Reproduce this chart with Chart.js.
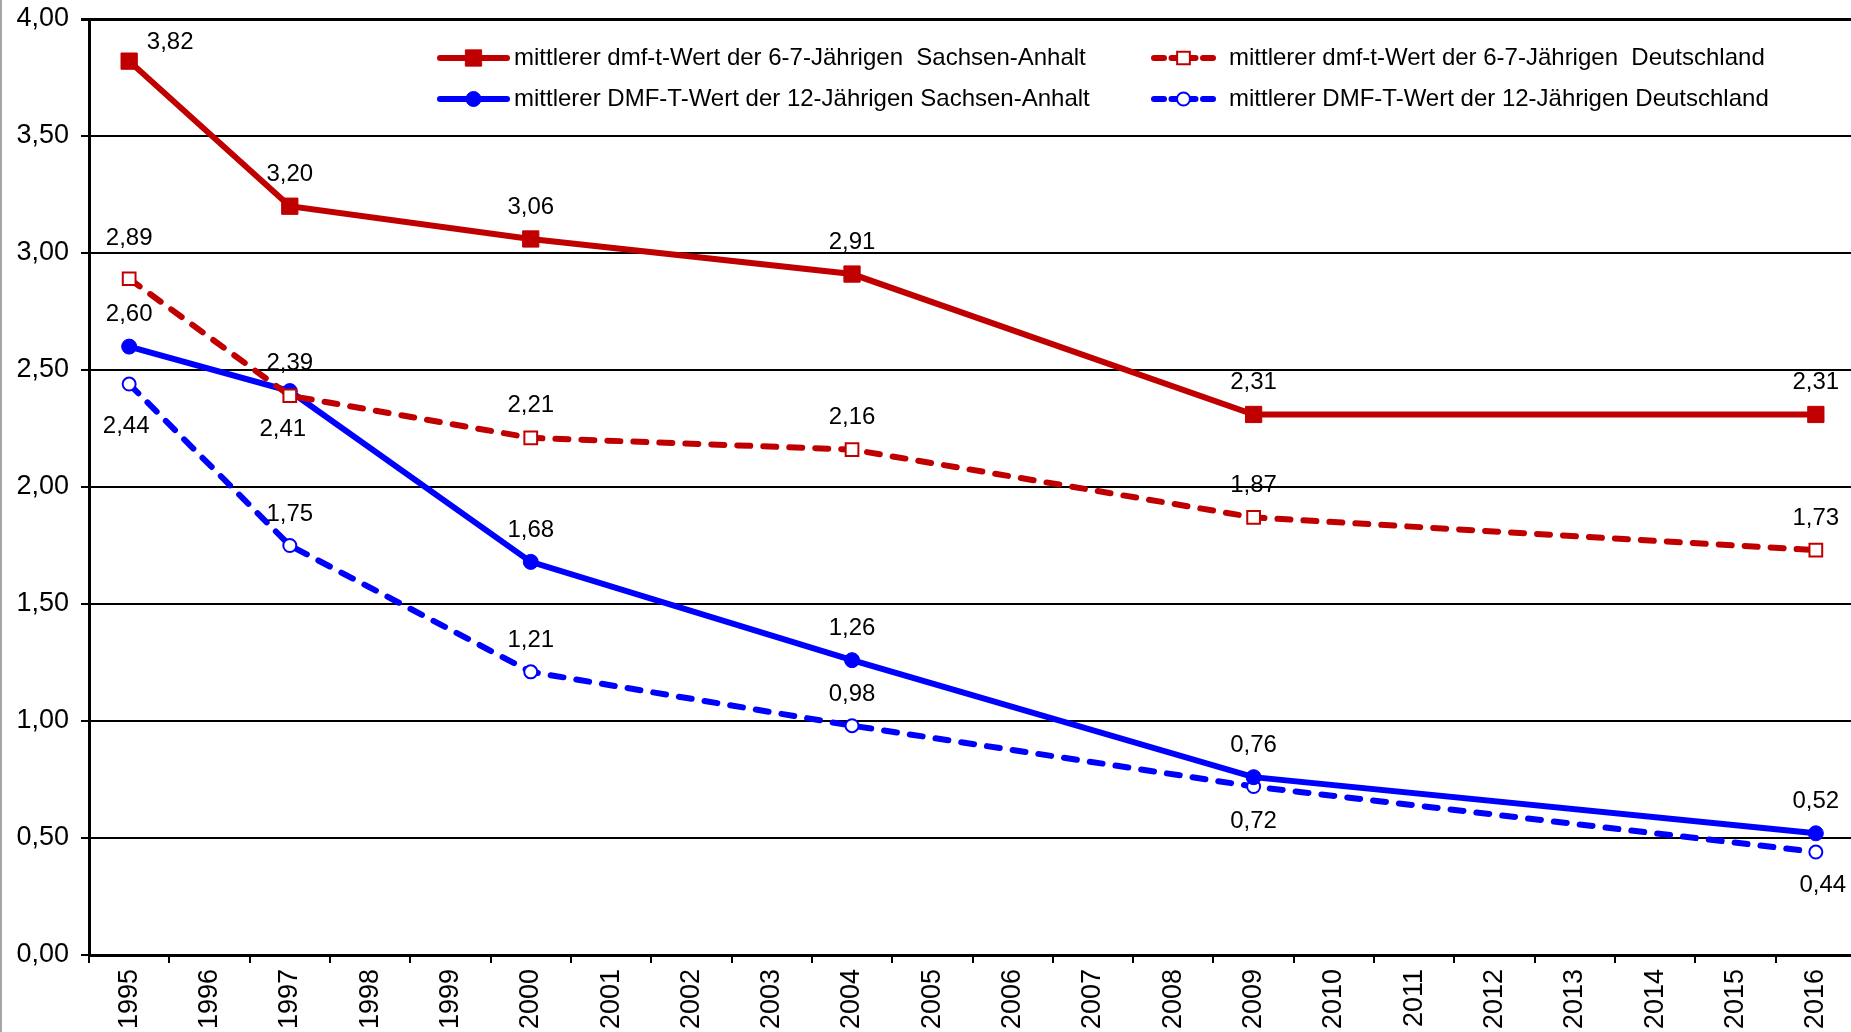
<!DOCTYPE html>
<html>
<head>
<meta charset="utf-8">
<script src="https://cdn.jsdelivr.net/npm/chart.js@4/dist/chart.umd.min.js"></script>
<style>
  html, body { margin: 0; padding: 0; background: #ffffff; overflow: hidden; }
  #wrap { position: relative; width: 1851px; height: 1032px; overflow: hidden; }
  #c { display: block; }
</style>
</head>
<body>
<div id="wrap"><canvas id="c" width="1856" height="1032"></canvas></div>
<script>
// ---- Data ----
const years = ["1995","1996","1997","1998","1999","2000","2001","2002","2003","2004","2005","2006","2007","2008","2009","2010","2011","2012","2013","2014","2015","2016"];
const saDmft67 = [3.82,null,3.20,null,null,3.06,null,null,null,2.91,null,null,null,null,2.31,null,null,null,null,null,null,2.31];
const deDmft67 = [2.89,null,2.39,null,null,2.21,null,null,null,2.16,null,null,null,null,1.87,null,null,null,null,null,null,1.73];
const saDMFT12 = [2.60,null,2.41,null,null,1.68,null,null,null,1.26,null,null,null,null,0.76,null,null,null,null,null,null,0.52];
const deDMFT12 = [2.44,null,1.75,null,null,1.21,null,null,null,0.98,null,null,null,null,0.72,null,null,null,null,null,null,0.44];
const seriesNames = [
  "mittlerer dmf-t-Wert der 6-7-Jährigen  Sachsen-Anhalt",
  "mittlerer dmf-t-Wert der 6-7-Jährigen  Deutschland",
  "mittlerer DMF-T-Wert der 12-Jährigen Sachsen-Anhalt",
  "mittlerer DMF-T-Wert der 12-Jährigen Deutschland"
];
const yTicks = [0,0.5,1,1.5,2,2.5,3,3.5,4];

// ---- Styles ----
const RED = "#C00000";
const BLUE = "#0000FF";
const FONT = "'Liberation Sans', Arial, sans-serif";

// label placement (style only): [dx, dy] per point index
const labelPlace = [
  {0:[41,-19], def:[0,-32]},
  {def:[0,-32], 0:[0,-40]},
  {def:[0,-32], 2:[-7,38]},
  {def:[0,-31], 0:[-3,42], 14:[0,35], 21:[7,33]}
];

function fmt(v){ return v.toFixed(2).replace('.', ','); }

const dataLabelPlugin = {
  id: 'dataLabels',
  afterDatasetsDraw(chart) {
    const ctx = chart.ctx;
    ctx.save();
    ctx.font = "24px " + FONT;
    ctx.fillStyle = "#000";
    ctx.textAlign = "center";
    ctx.textBaseline = "middle";
    chart.data.datasets.forEach((ds, i) => {
      const meta = chart.getDatasetMeta(i);
      ds.data.forEach((v, j) => {
        if (v === null) return;
        const el = meta.data[j];
        const off = labelPlace[i][j] || labelPlace[i].def;
        ctx.fillText(fmt(v), el.x + off[0], el.y + off[1]);
      });
    });
    ctx.restore();
  }
};

function drawMarker(ctx, ds, x, y) {
  ctx.save();
  ctx.lineWidth = ds.pointBorderWidth;
  ctx.strokeStyle = ds.pointBorderColor;
  ctx.fillStyle = ds.pointBackgroundColor;
  ctx.setLineDash([]);
  ctx.beginPath();
  if (ds.pointStyle === 'rect') {
    const s = Math.SQRT1_2 * ds.pointRadius;
    ctx.rect(x - s, y - s, 2*s, 2*s);
  } else {
    ctx.arc(x, y, ds.pointRadius, 0, Math.PI*2);
  }
  ctx.fill();
  ctx.stroke();
  ctx.restore();
}

const legendPlugin = {
  id: 'customLegend',
  afterDraw(chart) {
    const ctx = chart.ctx;
    const spots = [
      {x0:437, x1:510, y:58, gap:4},
      {x0:1151, x1:1216, y:58, gap:13},
      {x0:437, x1:510, y:99, gap:4},
      {x0:1151, x1:1216, y:99, gap:13}
    ];
    ctx.save();
    chart.data.datasets.forEach((ds, i) => {
      const s = spots[i];
      ctx.save();
      ctx.strokeStyle = ds.borderColor;
      ctx.lineWidth = ds.borderWidth;
      ctx.lineCap = 'round';
      if (ds.borderDash && ds.borderDash.length) {
        const mx = (s.x0 + s.x1) / 2;
        ctx.beginPath(); ctx.moveTo(s.x0 + 3, s.y); ctx.lineTo(s.x0 + 13, s.y); ctx.stroke();
        ctx.beginPath(); ctx.moveTo(mx - 12, s.y); ctx.lineTo(mx + 12, s.y); ctx.stroke();
        ctx.beginPath(); ctx.moveTo(s.x1 - 13, s.y); ctx.lineTo(s.x1 - 3, s.y); ctx.stroke();
      } else {
        ctx.beginPath(); ctx.moveTo(s.x0 + 3, s.y); ctx.lineTo(s.x1 - 3, s.y); ctx.stroke();
      }
      ctx.restore();
      drawMarker(ctx, ds, (s.x0 + s.x1) / 2, s.y);
      ctx.font = "24px " + FONT;
      ctx.fillStyle = "#000";
      ctx.textAlign = "left";
      ctx.textBaseline = "middle";
      ctx.fillText(ds.label, s.x1 + s.gap, s.y);
    });
    ctx.restore();
  }
};

const framePlugin = {
  id: 'frame',
  afterDraw(chart) {
    const ctx = chart.ctx;
    ctx.save();
    ctx.fillStyle = "#a6a6a6";
    ctx.fillRect(0, 0, 2, chart.height);
    ctx.restore();
  }
};

function mk(label, data, color, dashed, style) {
  return {
    label: label,
    data: data,
    borderColor: color,
    backgroundColor: color,
    borderWidth: 6,
    borderDash: dashed ? [13, 13] : [],
    borderCapStyle: dashed ? 'round' : 'butt',
    spanGaps: true,
    tension: 0,
    clip: false,
    pointStyle: style.shape,
    pointRadius: style.r,
    pointHoverRadius: style.r,
    pointBorderWidth: style.bw,
    pointBorderColor: color,
    pointBackgroundColor: style.filled ? color : "#ffffff"
  };
}

new Chart(document.getElementById('c'), {
  type: 'line',
  data: {
    labels: years,
    datasets: [
      mk(seriesNames[0], saDmft67, RED, false, {shape:'rect', r:11.5, bw:1, filled:true}),
      mk(seriesNames[1], deDmft67, RED, true, {shape:'rect', r:9, bw:2, filled:false}),
      mk(seriesNames[2], saDMFT12, BLUE, false, {shape:'circle', r:7.5, bw:1, filled:true}),
      mk(seriesNames[3], deDMFT12, BLUE, true, {shape:'circle', r:6.5, bw:2, filled:false})
    ]
  },
  options: {
    responsive: false,
    animation: false,
    events: [],
    layout: { autoPadding: false, padding: { top: 19, right: 0, left: 0, bottom: 0 } },
    plugins: { legend: { display: false }, tooltip: { enabled: false }, title: { display: false } },
    scales: {
      x: {
        type: 'category',
        offset: true,
        grid: { offset: true, drawOnChartArea: false, drawTicks: true, tickLength: 8, color: '#000', lineWidth: 2 },
        border: { display: true, color: '#000', width: 3 },
        ticks: {
          autoSkip: false, minRotation: 90, maxRotation: 90, padding: 6,
          color: '#000', font: { family: FONT, size: 27 }
        },
        afterFit(scale) { scale.height = 77; scale.paddingLeft = 0; scale.paddingRight = 0; }
      },
      y: {
        min: 0, max: 4,
        afterBuildTicks(scale) { scale.ticks = yTicks.map(v => ({ value: v })); },
        grid: {
          color: '#000',
          lineWidth: (c) => (c.tick && c.tick.value === 4 ? 3 : 2),
          drawTicks: true, tickLength: 8
        },
        border: { display: true, color: '#000', width: 3 },
        ticks: {
          padding: 12, color: '#000', font: { family: FONT, size: 27 },
          callback: (v) => fmt(Number(v))
        },
        afterFit(scale) { scale.width = 89; scale.paddingTop = 0; scale.paddingBottom = 0; }
      }
    }
  },
  plugins: [dataLabelPlugin, legendPlugin, framePlugin]
});
</script>
</body>
</html>
